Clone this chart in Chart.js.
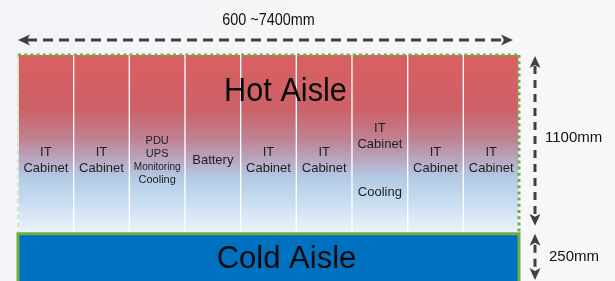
<!DOCTYPE html>
<html>
<head>
<meta charset="utf-8">
<script src="https://cdn.jsdelivr.net/npm/chart.js@4.4.0/dist/chart.umd.min.js"></script>
<style>
  html, body { margin: 0; padding: 0; background: #f5f6f8; }
  #wrap { width: 615px; height: 281px; }
</style>
</head>
<body>
<div id="wrap"><canvas id="aisleChart"></canvas></div>
<script>
// Cabinet slots along the row (text shown inside each slot)
const cabinetLabels = [
    ['IT', 'Cabinet'],
    ['IT', 'Cabinet'],
    ['PDU', 'UPS', 'Monitoring', 'Cooling'],
    ['Battery'],
    ['IT', 'Cabinet'],
    ['IT', 'Cabinet'],
    ['IT', 'Cabinet', '', '', 'Cooling'],
    ['IT', 'Cabinet'],
    ['IT', 'Cabinet']
];

// Heights in mm
const hotAisleHeight = [1100, 1100, 1100, 1100, 1100, 1100, 1100, 1100, 1100];
const coldAisleRange = [[-290, 0], [-290, 0], [-290, 0], [-290, 0], [-290, 0], [-290, 0], [-290, 0], [-290, 0], [-290, 0]];

// Dimension texts
const widthLabel = '600 ~7400mm';
const hotHeightLabel = '1100mm';
const coldHeightLabel = '250mm';
const hotTitle = 'Hot Aisle';
const coldTitle = 'Cold Aisle';

const FONT = '"Liberation Sans", Arial, Helvetica, sans-serif';
const GREEN = '#6dad45';
const ARROW = '#404040';

// Hot aisle fill: red at the top fading into light blue
function hotGradient(context) {
    const chart = context.chart;
    const { ctx, chartArea, scales } = chart;
    if (!chartArea) return '#d9605f';
    const top = scales.y.getPixelForValue(1100);
    const bottom = scales.y.getPixelForValue(0);
    const g = ctx.createLinearGradient(0, top, 0, bottom);
    g.addColorStop(0, '#d95f60');
    g.addColorStop(0.3, '#cd6168');
    g.addColorStop(0.46, '#c07f8e');
    g.addColorStop(0.57, '#b8a3bb');
    g.addColorStop(0.69, '#b4cbe6');
    g.addColorStop(0.8, '#c4daf0');
    g.addColorStop(1, '#eef4fb');
    return g;
}

function arrowHead(ctx, x, y, dir) {
    // dir: 'left','right','up','down'
    ctx.beginPath();
    if (dir === 'left') { ctx.moveTo(x, y); ctx.lineTo(x + 12, y - 5.5); ctx.lineTo(x + 9, y); ctx.lineTo(x + 12, y + 5.5); }
    if (dir === 'right') { ctx.moveTo(x, y); ctx.lineTo(x - 12, y - 5.5); ctx.lineTo(x - 9, y); ctx.lineTo(x - 12, y + 5.5); }
    if (dir === 'up') { ctx.moveTo(x, y); ctx.lineTo(x - 5.5, y + 12); ctx.lineTo(x, y + 9); ctx.lineTo(x + 5.5, y + 12); }
    if (dir === 'down') { ctx.moveTo(x, y); ctx.lineTo(x - 5.5, y - 12); ctx.lineTo(x, y - 9); ctx.lineTo(x + 5.5, y - 12); }
    ctx.closePath();
    ctx.fill();
}

function dashedLine(ctx, x1, y1, x2, y2, dash, width) {
    ctx.save();
    ctx.setLineDash(dash);
    ctx.lineWidth = width;
    ctx.beginPath();
    ctx.moveTo(x1, y1);
    ctx.lineTo(x2, y2);
    ctx.stroke();
    ctx.restore();
}

const backgroundPlugin = {
    id: 'background',
    beforeDraw(chart) {
        const { ctx, width, height } = chart;
        const g = ctx.createLinearGradient(0, 0, width, 0);
        g.addColorStop(0, '#f3f4f7');
        g.addColorStop(1, '#f8f8fa');
        ctx.save();
        ctx.fillStyle = g;
        ctx.fillRect(0, 0, width, height);
        ctx.restore();
    }
};

const overlayPlugin = {
    id: 'overlay',
    afterDatasetsDraw(chart) {
        const { ctx, chartArea: area, scales } = chart;
        const yTop = scales.y.getPixelForValue(1100);
        const y0 = scales.y.getPixelForValue(0);
        const left = area.left, right = area.right;
        const mid = (left + right) / 2;

        ctx.save();

        // green borders of the containment
        ctx.strokeStyle = '#d3e6c4';
        dashedLine(ctx, left, yTop, left, y0, [4, 4], 2);
        ctx.strokeStyle = GREEN;
        dashedLine(ctx, left, yTop, right, yTop, [3, 3.2], 3);
        dashedLine(ctx, right, yTop, right, y0, [3, 3.2], 3);
        ctx.lineWidth = 3;
        ctx.beginPath();
        ctx.moveTo(left, area.bottom);
        ctx.lineTo(left, y0);
        ctx.lineTo(right, y0);
        ctx.lineTo(right, area.bottom);
        ctx.stroke();

        // cabinet texts
        ctx.fillStyle = '#1e1e1e';
        ctx.textAlign = 'center';
        ctx.textBaseline = 'middle';
        const cy = yTop + (y0 - yTop) * 0.59;
        cabinetLabels.forEach((lines, i) => {
            const cx = scales.x.getPixelForValue(i);
            const small = lines.length === 4;
            const lh = small ? 13 : 16;
            const start = cy - (lines.length - 1) * lh / 2;
            lines.forEach((line, j) => {
                const size = small ? (line.length > 8 ? 10 : 11) : 13;
                ctx.font = size + 'px ' + FONT;
                ctx.fillText(line, cx, start + j * lh);
            });
        });

        // aisle titles
        ctx.fillStyle = '#0a0a0a';
        ctx.textBaseline = 'alphabetic';
        ctx.save();
        ctx.translate(mid + 17, yTop + 46);
        ctx.scale(0.93, 1);
        ctx.font = '33px ' + FONT;
        ctx.fillText(hotTitle, 0, 0);
        ctx.restore();
        ctx.font = '31px ' + FONT;
        ctx.fillText(coldTitle, mid + 18, y0 + 34);

        // width dimension
        ctx.save();
        ctx.translate(mid, area.top - 30);
        ctx.scale(0.9, 1);
        ctx.font = '16px ' + FONT;
        ctx.fillStyle = '#111';
        ctx.fillText(widthLabel, 0, 0);
        ctx.restore();

        ctx.strokeStyle = ARROW;
        ctx.fillStyle = ARROW;
        const ay = area.top - 15;
        dashedLine(ctx, left + 9, ay, right - 15, ay, [10, 6], 3);
        arrowHead(ctx, left, ay, 'left');
        arrowHead(ctx, right - 6, ay, 'right');

        // height dimensions
        const ax = right + 16;
        dashedLine(ctx, ax, yTop + 11, ax, y0 - 15, [8, 6], 3);
        arrowHead(ctx, ax, yTop + 1, 'up');
        arrowHead(ctx, ax, y0 - 8, 'down');
        dashedLine(ctx, ax, y0 + 11, ax, area.bottom - 8, [8, 6], 3);
        arrowHead(ctx, ax, y0, 'up');
        arrowHead(ctx, ax, area.bottom - 1, 'down');

        ctx.fillStyle = '#111';
        ctx.textAlign = 'left';
        ctx.textBaseline = 'middle';
        ctx.font = '15px ' + FONT;
        ctx.fillText(hotHeightLabel, ax + 10, yTop + 83);
        ctx.fillText(coldHeightLabel, ax + 14, y0 + 23);

        ctx.restore();
    }
};

new Chart(document.getElementById('aisleChart'), {
    type: 'bar',
    data: {
        labels: cabinetLabels.map(l => l.join(' ')),
        datasets: [
            {
                label: 'Hot Aisle',
                data: hotAisleHeight,
                backgroundColor: hotGradient,
                borderColor: '#ffffff',
                borderWidth: { left: 1, right: 1, top: 0, bottom: 0 },
                borderSkipped: false,
                grouped: false,
                barPercentage: 1,
                categoryPercentage: 1
            },
            {
                label: 'Cold Aisle',
                data: coldAisleRange,
                backgroundColor: '#0070c0',
                borderWidth: 0,
                grouped: false,
                barPercentage: 1,
                categoryPercentage: 1
            }
        ]
    },
    options: {
        responsive: true,
        maintainAspectRatio: false,
        animation: false,
        layout: { padding: { left: 18, right: 96, top: 55, bottom: 0 } },
        plugins: {
            legend: { display: false },
            tooltip: { enabled: false }
        },
        scales: {
            x: { display: false },
            y: { display: false, min: -290, max: 1100 }
        }
    },
    plugins: [backgroundPlugin, overlayPlugin]
});
</script>
</body>
</html>
